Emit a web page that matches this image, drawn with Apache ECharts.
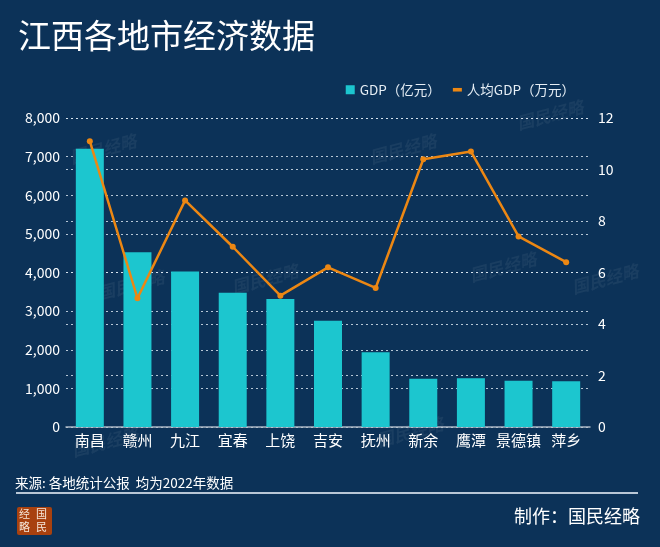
<!DOCTYPE html>
<html>
<head>
<meta charset="utf-8">
<script src="https://cdn.jsdelivr.net/npm/echarts@6/dist/echarts.min.js"></script>
<style>
html,body{margin:0;padding:0;background:#0c3258;}
#c{width:660px;height:547px;}
</style>
</head>
<body>
<div id="c"></div>
<script>
const categories = ['南昌','赣州','九江','宜春','上饶','吉安','抚州','新余','鹰潭','景德镇','萍乡'];
const gdp = [7203, 4523, 4025, 3473, 3317, 2750, 1936, 1250, 1265, 1200, 1186];
const gdpPerCapita = [11.1, 5.0, 8.8, 7.0, 5.1, 6.2, 5.4, 10.4, 10.7, 7.4, 6.4];
const leftTicks = {min: 0, max: 8000, interval: 1000};
const rightTicks = {min: 0, max: 12, interval: 2};

const FONT = '"Noto Sans CJK SC", "Noto Sans", sans-serif';
const chart = echarts.init(document.getElementById('c'));

const watermarks = [];
[[68,132],[368,132],[515,98],[468,250],[96,268],[375,415],[570,262],[70,425],[230,262]].forEach(p => {
  watermarks.push({
    type: 'text', left: p[0], top: p[1], rotation: Math.PI/12, z: 0, silent: true,
    style: {text: '国民经略', fill: 'rgba(255,255,255,0.06)', font: 'italic bold 17px ' + FONT}
  });
});

chart.setOption({
  backgroundColor: '#0c3258',
  textStyle: {fontFamily: FONT},
  title: {
    text: '江西各地市经济数据', left: 13, top: 14,
    textStyle: {color: '#ffffff', fontSize: 33, fontWeight: 'normal', fontFamily: FONT}
  },
  legend: {
    right: 80, top: 78, itemGap: 12, itemWidth: 9, itemHeight: 9,
    textStyle: {color: '#e6eef5', fontSize: 13.5, fontFamily: FONT},
    data: [
      {name: 'GDP（亿元）', icon: 'rect'},
      {name: '人均GDP（万元）', icon: 'path://M0,0 L10,0 L10,4 L0,4 Z', itemStyle: {color: '#ec8713'}}
    ]
  },
  grid: {left: 66, right: 70, top: 118, bottom: 120},
  xAxis: {
    type: 'category', data: categories,
    axisLine: {lineStyle: {color: '#a9b6c4', width: 1.5}},
    axisTick: {alignWithLabel: true, length: 4, lineStyle: {color: '#a9b6c4'}},
    axisLabel: {color: '#ffffff', fontSize: 15, margin: 6, interval: 0, fontFamily: FONT}
  },
  yAxis: [
    {
      type: 'value', min: leftTicks.min, max: leftTicks.max, interval: leftTicks.interval,
      axisLabel: {color: '#ffffff', fontSize: 14, margin: 6,
        formatter: v => v.toLocaleString('en-US')},
      axisLine: {show: false}, axisTick: {show: false},
      splitLine: {lineStyle: {color: 'rgba(225,235,245,0.8)', type: [2,3], width: 1}}
    },
    {
      type: 'value', min: rightTicks.min, max: rightTicks.max, interval: rightTicks.interval,
      axisLabel: {color: '#ffffff', fontSize: 14, margin: 8},
      axisLine: {show: false}, axisTick: {show: false},
      splitLine: {lineStyle: {color: 'rgba(225,235,245,0.8)', type: [2,3], width: 1}}
    }
  ],
  series: [
    {
      name: 'GDP（亿元）', type: 'bar', data: gdp, yAxisIndex: 0,
      barWidth: 28, itemStyle: {color: '#1cc6cf'}, z: 2
    },
    {
      name: '人均GDP（万元）', type: 'line', data: gdpPerCapita, yAxisIndex: 1,
      symbol: 'circle', symbolSize: 6,
      lineStyle: {color: '#ec8713', width: 2.5},
      itemStyle: {color: '#ec8713'}, z: 3
    }
  ],
  graphic: watermarks.concat([
    {type: 'text', left: 15, top: 476, style: {text: '来源: 各地统计公报  均为2022年数据', fill: '#ffffff', font: '13.5px ' + FONT}},
    {type: 'rect', left: 16, top: 492, shape: {width: 622, height: 2}, style: {fill: '#b9c7d6'}},
    {type: 'rect', left: 17, top: 507, shape: {width: 35, height: 28, r: 2}, style: {fill: '#a8410f'}},
    {type: 'text', left: 19, top: 508, style: {text: '经', fill: '#f5e6d8', font: '11px ' + FONT}},
    {type: 'text', left: 36, top: 508, style: {text: '国', fill: '#f5e6d8', font: '11px ' + FONT}},
    {type: 'text', left: 19, top: 521, style: {text: '略', fill: '#f5e6d8', font: '11px ' + FONT}},
    {type: 'text', left: 36, top: 521, style: {text: '民', fill: '#f5e6d8', font: '11px ' + FONT}},
    {type: 'text', right: 20, top: 507, style: {text: '制作：国民经略', fill: '#ffffff', font: '18px ' + FONT}}
  ])
});
</script>
</body>
</html>
